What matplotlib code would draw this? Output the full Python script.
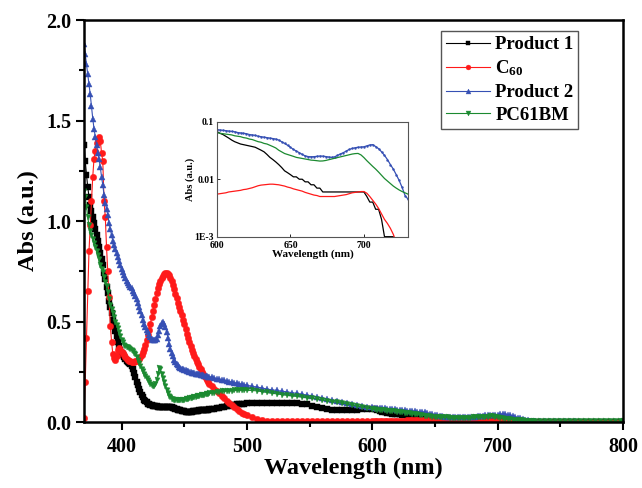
#!/usr/bin/env python3
"""UV-vis absorption of Product 1, C60, Product 2 and PC61BM, with a log inset
of the 600-730 nm tail."""

import numpy as np
import matplotlib
matplotlib.use('Agg')
import matplotlib.pyplot as plt

plt.rcParams['font.family'] = ['Liberation Serif', 'DejaVu Serif']
plt.rcParams['font.weight'] = 'bold'
plt.rcParams['mathtext.fontset'] = 'custom'
plt.rcParams['mathtext.rm'] = 'Liberation Serif:bold'
plt.rcParams['mathtext.it'] = 'Liberation Serif:bold'
plt.rcParams['mathtext.bf'] = 'Liberation Serif:bold'

# wavelength grid (nm): 1 nm through the visible bands, coarser further out
WAVELENGTH = (list(range(370, 471)) + list(range(472, 501, 2))
              + list(range(504, 601, 4)) + list(range(602, 731, 2))
              + list(range(734, 799, 4)) + [800])

PRODUCT1 = [
    # 370-400
    1.38, 1.30, 1.23, 1.17, 1.12, 1.08, 1.05, 1.02, 0.99, 0.96, 0.93,
    0.90, 0.87, 0.84, 0.81, 0.78, 0.74, 0.71, 0.67, 0.64, 0.60,
    0.57, 0.54, 0.51, 0.48, 0.455, 0.43, 0.40, 0.38, 0.36, 0.345,
    # 401-470
    0.335, 0.325, 0.314, 0.305, 0.300, 0.295, 0.289, 0.280, 0.264, 0.245,
    0.222, 0.200, 0.182, 0.165, 0.150, 0.135, 0.123, 0.112, 0.104, 0.098,
    0.092, 0.088, 0.085, 0.083, 0.081, 0.080, 0.079, 0.078, 0.077, 0.077,
    0.077, 0.077, 0.077, 0.077, 0.077, 0.077, 0.077, 0.076, 0.075, 0.073,
    0.071, 0.069, 0.067, 0.064, 0.062, 0.060, 0.058, 0.056, 0.054, 0.053,
    0.052, 0.051, 0.051, 0.051, 0.051, 0.052, 0.053, 0.054, 0.055, 0.056,
    0.057, 0.058, 0.059, 0.060, 0.060, 0.061, 0.061, 0.062, 0.062, 0.063,
    # 472-500
    0.064, 0.066, 0.068, 0.070, 0.073, 0.076, 0.079, 0.082, 0.085, 0.087,
    0.089, 0.090, 0.091, 0.092, 0.093,
    # 504-600
    0.094, 0.095, 0.096, 0.096, 0.096, 0.096, 0.096, 0.096, 0.096, 0.095,
    0.092, 0.088, 0.082, 0.076, 0.070, 0.065, 0.062, 0.060, 0.059, 0.058,
    0.059, 0.061, 0.064, 0.066, 0.067,
    # 602-730
    0.063, 0.060, 0.056, 0.052, 0.048, 0.045, 0.043, 0.041, 0.040, 0.039,
    0.038, 0.037, 0.036, 0.034, 0.032, 0.030, 0.027, 0.024, 0.022, 0.020,
    0.018, 0.016, 0.014, 0.013, 0.012, 0.011, 0.011, 0.010, 0.010, 0.009,
    0.009, 0.008, 0.008, 0.007, 0.007, 0.006, 0.006, 0.006, 0.006, 0.006,
    0.006, 0.006, 0.006, 0.006, 0.006, 0.006, 0.006, 0.006, 0.006, 0.006,
    0.005, 0.004, 0.004, 0.003, 0.003, 0.002, 0.001, 0.001, 0.001, 0.001,
    0.0, 0.0, 0.0, 0.0, 0.0,
    # 734-800
    0.0, 0.0, 0.0, 0.0, 0.0, 0.0, 0.0, 0.0, 0.0,
    0.0, 0.0, 0.0, 0.0, 0.0, 0.0, 0.0, 0.0, 0.0,
]

C60 = [
    # 370-400
    0.02, 0.20, 0.42, 0.65, 0.85, 0.98, 1.10, 1.22, 1.31, 1.35, 1.39,
    1.41, 1.42, 1.40, 1.34, 1.30, 1.10, 1.02, 0.87, 0.75, 0.62,
    0.48, 0.40, 0.34, 0.32, 0.31, 0.33, 0.36, 0.37, 0.36, 0.35,
    # 401-470
    0.342, 0.335, 0.325, 0.315, 0.310, 0.305, 0.302, 0.300, 0.299, 0.300,
    0.302, 0.305, 0.310, 0.315, 0.324, 0.335, 0.350, 0.365, 0.385, 0.410,
    0.435, 0.460, 0.490, 0.520, 0.550, 0.580, 0.610, 0.640, 0.665, 0.685,
    0.700, 0.715, 0.727, 0.735, 0.739, 0.740, 0.737, 0.730, 0.717, 0.700,
    0.680, 0.660, 0.638, 0.615, 0.592, 0.570, 0.550, 0.530, 0.510, 0.490,
    0.465, 0.440, 0.420, 0.400, 0.380, 0.360, 0.345, 0.330, 0.315, 0.300,
    0.287, 0.275, 0.262, 0.250, 0.240, 0.230, 0.220, 0.210, 0.200, 0.190,
    # 472-500
    0.178, 0.166, 0.154, 0.142, 0.130, 0.118, 0.106, 0.095, 0.085, 0.075,
    0.065, 0.055, 0.047, 0.040, 0.034,
    # 504-600
    0.024, 0.015, 0.010, 0.007, 0.005, 0.0045, 0.0042, 0.0040, 0.0040, 0.0040,
    0.0041, 0.0042, 0.0043, 0.0044, 0.0045, 0.0046, 0.0047, 0.0048, 0.0049,
    0.0050, 0.0051, 0.0052, 0.0053, 0.0054, 0.0055,
    # 602-730
    0.0056, 0.0057, 0.0058, 0.0060, 0.0061, 0.0062, 0.0063, 0.0064, 0.0066,
    0.0067, 0.0069, 0.0071, 0.0074, 0.0077, 0.0079, 0.0080, 0.0081, 0.0082,
    0.0082, 0.0081, 0.0080, 0.0078, 0.0076, 0.0073, 0.0071, 0.0068, 0.0066,
    0.0064, 0.0062, 0.0059, 0.0057, 0.0055, 0.0053, 0.0052, 0.0050, 0.0050,
    0.0050, 0.0050, 0.0050, 0.0050, 0.0051, 0.0052, 0.0053, 0.0054, 0.0056,
    0.0058, 0.0059, 0.0060, 0.0061, 0.0061, 0.0057, 0.0050, 0.0043, 0.0037,
    0.0031, 0.0025, 0.0020, 0.0017, 0.0014, 0.0011, 0.0008, 0.0006, 0.0005,
    0.0004, 0.0003,
    # 734-800
    0.0003, 0.0002, 0.0002, 0.0002, 0.0001, 0.0001, 0.0001, 0.0001, 0.0001,
    0.0001, 0.0, 0.0, 0.0, 0.0, 0.0, 0.0, 0.0, 0.0,
]

PRODUCT2 = [
    # 370-400
    1.88, 1.83, 1.78, 1.73, 1.68, 1.63, 1.57, 1.51, 1.46, 1.42, 1.38,
    1.34, 1.31, 1.27, 1.22, 1.18, 1.13, 1.09, 1.06, 1.03, 0.99,
    0.96, 0.93, 0.90, 0.88, 0.86, 0.84, 0.82, 0.80, 0.78, 0.76,
    # 401-470
    0.745, 0.730, 0.715, 0.700, 0.690, 0.680, 0.672, 0.665, 0.653, 0.640,
    0.625, 0.610, 0.590, 0.570, 0.550, 0.530, 0.510, 0.490, 0.475, 0.460,
    0.447, 0.435, 0.424, 0.415, 0.410, 0.408, 0.409, 0.415, 0.432, 0.455,
    0.478, 0.495, 0.497, 0.490, 0.472, 0.450, 0.420, 0.390, 0.365, 0.345,
    0.326, 0.310, 0.299, 0.290, 0.282, 0.276, 0.271, 0.266, 0.263, 0.260,
    0.257, 0.255, 0.252, 0.250, 0.248, 0.246, 0.244, 0.243, 0.241, 0.240,
    0.238, 0.237, 0.235, 0.234, 0.232, 0.231, 0.229, 0.228, 0.226, 0.225,
    # 472-500
    0.222, 0.219, 0.216, 0.213, 0.210, 0.207, 0.204, 0.201, 0.198, 0.195,
    0.193, 0.190, 0.188, 0.185, 0.183,
    # 504-600
    0.178, 0.174, 0.169, 0.164, 0.160, 0.157, 0.153, 0.150, 0.146, 0.142,
    0.138, 0.134, 0.130, 0.125, 0.120, 0.115, 0.110, 0.105, 0.100, 0.095,
    0.091, 0.087, 0.082, 0.077, 0.073,
    # 602-730
    0.072, 0.071, 0.070, 0.069, 0.068, 0.067, 0.065, 0.064, 0.063, 0.062,
    0.060, 0.059, 0.058, 0.056, 0.055, 0.054, 0.053, 0.052, 0.051, 0.050,
    0.048, 0.045, 0.042, 0.039, 0.036, 0.033, 0.031, 0.029, 0.027, 0.0255,
    0.0248, 0.0246, 0.0247, 0.025, 0.0253, 0.0252, 0.0248, 0.0243, 0.024,
    0.0245, 0.026, 0.0275, 0.029, 0.031, 0.033, 0.0343, 0.0353, 0.036,
    0.0364, 0.0367, 0.038, 0.0395, 0.040, 0.037, 0.034, 0.030, 0.026, 0.022,
    0.018, 0.015, 0.012, 0.0095, 0.0072, 0.0052, 0.0045,
    # 734-800
    0.0040, 0.0036, 0.0033, 0.0031, 0.0029, 0.0028, 0.0027, 0.0026, 0.0025,
    0.0024, 0.0024, 0.0023, 0.0023, 0.0022, 0.0022, 0.0021, 0.0021, 0.0020,
]

PC61BM = [
    # 370-400
    1.15, 1.12, 1.07, 1.02, 0.98, 0.95, 0.93, 0.91, 0.89, 0.87, 0.85,
    0.83, 0.81, 0.78, 0.76, 0.745, 0.72, 0.695, 0.675, 0.645, 0.61,
    0.58, 0.56, 0.54, 0.52, 0.50, 0.485, 0.47, 0.45, 0.43, 0.41,
    # 401-470
    0.397, 0.385, 0.380, 0.375, 0.371, 0.368, 0.364, 0.360, 0.353, 0.345,
    0.336, 0.325, 0.310, 0.295, 0.280, 0.265, 0.252, 0.240, 0.229, 0.218,
    0.208, 0.198, 0.190, 0.182, 0.178, 0.178, 0.190, 0.210, 0.240, 0.270,
    0.262, 0.240, 0.220, 0.200, 0.180, 0.160, 0.145, 0.130, 0.122, 0.117,
    0.114, 0.111, 0.110, 0.109, 0.109, 0.109, 0.110, 0.110, 0.111, 0.112,
    0.113, 0.115, 0.116, 0.118, 0.120, 0.121, 0.123, 0.124, 0.126, 0.127,
    0.129, 0.130, 0.132, 0.133, 0.135, 0.136, 0.138, 0.139, 0.141, 0.142,
    # 472-500
    0.144, 0.146, 0.148, 0.150, 0.152, 0.153, 0.154, 0.155, 0.156, 0.157,
    0.157, 0.158, 0.158, 0.158, 0.158,
    # 504-600
    0.157, 0.155, 0.151, 0.147, 0.143, 0.140, 0.136, 0.133, 0.130, 0.127,
    0.124, 0.121, 0.118, 0.114, 0.110, 0.106, 0.102, 0.098, 0.094, 0.089,
    0.084, 0.079, 0.074, 0.069, 0.065,
    # 602-730
    0.063, 0.062, 0.061, 0.060, 0.059, 0.057, 0.056, 0.055, 0.053, 0.052,
    0.050, 0.049, 0.047, 0.045, 0.044, 0.042, 0.041, 0.039, 0.037, 0.035,
    0.032, 0.030, 0.028, 0.027, 0.026, 0.025, 0.024, 0.0235, 0.023, 0.0225,
    0.022, 0.0215, 0.0213, 0.021, 0.0207, 0.0208, 0.0212, 0.0218, 0.0224,
    0.0231, 0.0238, 0.0245, 0.0252, 0.026, 0.0268, 0.0274, 0.0279, 0.0281,
    0.0265, 0.0238, 0.021, 0.0187, 0.0167, 0.015, 0.0133, 0.0117, 0.0103,
    0.0093, 0.0084, 0.0076, 0.007, 0.0065, 0.0061, 0.0058, 0.0055,
    # 734-800
    0.0052, 0.0048, 0.0045, 0.0042, 0.0040, 0.0038, 0.0036, 0.0035, 0.0034,
    0.0033, 0.0032, 0.0031, 0.0030, 0.0030, 0.0029, 0.0029, 0.0028, 0.0028,
]

SERIES = [
    ('Product 1', PRODUCT1, 'black', 's', 4.0),
    ('C$_{60}$', C60, '#ff1a1a', 'o', 4.6),
    ('Product 2', PRODUCT2, '#3650b4', '^', 4.8),
    ('PC61BM', PC61BM, '#1b8a30', 'v', 3.6),
]


def main():
    wl = np.array(WAVELENGTH, dtype=float)

    fig = plt.figure(figsize=(6.42, 4.88), dpi=100)
    ax = fig.add_axes([0.1308, 0.1352, 0.8396, 0.8238])

    for label, vals, color, marker, ms in SERIES:
        ax.plot(wl, vals, color=color, lw=0.8, marker=marker, ms=ms,
                mfc=color, mec=color, mew=0.3, label=label)

    ax.set_xlim(370, 800)
    ax.set_ylim(0.0, 2.0)
    ax.set_xticks([400, 500, 600, 700, 800])
    ax.set_xticks([450, 550, 650, 750], minor=True)
    ax.set_yticks([0.0, 0.5, 1.0, 1.5, 2.0])
    ax.set_yticks([0.25, 0.75, 1.25, 1.75], minor=True)
    ax.set_yticklabels(['0.0', '0.5', '1.0', '1.5', '2.0'])
    ax.tick_params(which='both', direction='out', top=False, right=False,
                   width=1.5, labelsize=14.5)
    ax.tick_params(which='major', length=5.5)
    ax.tick_params(which='minor', length=3.5)
    ax.tick_params(axis='x', which='major', pad=5)
    for sp in ax.spines.values():
        sp.set_linewidth(1.8)
    ax.set_xlabel('Wavelength (nm)', fontsize=17.5, fontweight='bold',
                  labelpad=1)
    ax.set_ylabel('Abs (a.u.)', fontsize=17.5, fontweight='bold', labelpad=5)

    leg = ax.legend(loc='upper right', bbox_to_anchor=(0.917, 0.972),
                    borderaxespad=0, fancybox=False, framealpha=1,
                    edgecolor='#555555', numpoints=1, handlelength=2.35,
                    handletextpad=0.3, labelspacing=0.3, borderpad=0.25,
                    prop={'size': 13.5, 'weight': 'bold'})
    leg.get_frame().set_linewidth(1.0)
    for h in leg.legend_handles:
        h.set_markersize(3.5)

    # log-scale inset of the long-wavelength tail
    ins = fig.add_axes([0.338, 0.515, 0.2975, 0.2355])
    for label, vals, color, marker, ms in SERIES:
        v = np.array(vals, dtype=float)
        if marker == '^':
            ins.plot(wl, v, color=color, lw=0.9, marker='.', ms=1.5)
        else:
            ins.plot(wl, v, color=color, lw=0.9)
    ins.set_yscale('log')
    ins.set_xlim(600, 730)
    ins.set_ylim(1e-3, 0.1)
    ins.set_xticks([600, 650, 700])
    ins.set_xticklabels(['600', '650', '700'])
    ins.set_yticks([1e-3, 1e-2, 1e-1])
    ins.set_yticklabels(['1E-3', '0.01', '0.1'])
    ins.yaxis.set_minor_locator(matplotlib.ticker.NullLocator())
    ins.tick_params(which='both', direction='in', length=2, width=0.6,
                    labelsize=7)
    ins.tick_params(axis='x', pad=3)
    ins.tick_params(axis='y', pad=2)
    for sp in ins.spines.values():
        sp.set_linewidth(0.8)
        sp.set_color('#555555')
    ins.set_xlabel('Wavelength (nm)', fontsize=8, fontweight='bold',
                   labelpad=0)
    ins.set_ylabel('Abs (a.u.)', fontsize=7.5, fontweight='bold', labelpad=0)

    fig.savefig('out.png', dpi=100)
    plt.close(fig)


if __name__ == '__main__':
    main()
